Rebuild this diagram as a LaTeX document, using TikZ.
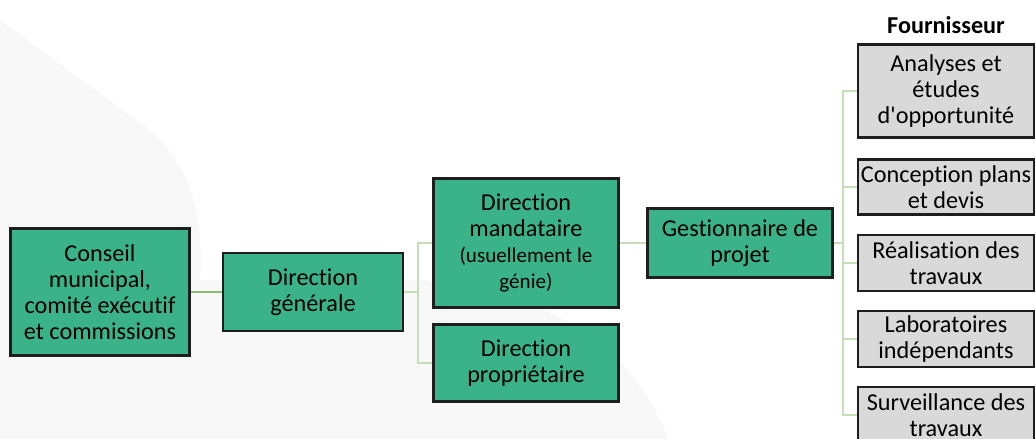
\documentclass[tikz,border=0pt]{standalone}
\usepackage{fontspec}
\setmainfont{Carlito}[Ligatures={TeX,NoCommon}]
\definecolor{boxgreen}{HTML}{3BB38A}
\definecolor{boxgrey}{HTML}{D9D9D9}
\definecolor{boxline}{HTML}{1E1E1E}
\definecolor{linkdark}{HTML}{8DBC6C}
\definecolor{linklight}{HTML}{C6DDB9}
\definecolor{bgshade}{HTML}{F8F8F8}
\tikzset{
  orgbox/.style={draw=boxline,line width=1.6pt,align=center,inner sep=1pt,
    font=\fontsize{13.8}{14.8}\selectfont},
  greenbox/.style={orgbox,fill=boxgreen},
  greybox/.style={orgbox,fill=boxgrey},
  link/.style={draw=linklight,line width=1.6pt},
}
\begin{document}
\begin{tikzpicture}[x=0.02cm,y=-0.02cm]
      \useasboundingbox (0,0) rectangle (1036,439);
      % faint background
      \fill[bgshade] (0,20) -- (140,123) .. controls (185,155) and (205,205) .. (200,280)
        -- (420,280) .. controls (560,290) and (640,360) .. (668,439) -- (0,439) -- cycle;
      \def \Leaders{
        conseil/100/292/3.58/2.54/{Conseil\\municipal,\\comité exécutif\\et commissions},
        dg/313/292/3.6/1.56/{Direction\\générale},
        dm/526/243/3.7/2.58/{Direction\\mandataire\\{\fontsize{12}{13}\selectfont(usuellement le}\\{\fontsize{12}{13}\selectfont génie)}},
        dp/526/363/3.7/1.54/{Direction\\propriétaire},
        gp/740/243/3.7/1.38/{Gestionnaire de\\projet}}
      \def \Suppliers{
        sup1/91/1.86/{Analyses et\\études\\d\textquotesingle opportunité},
        sup2/187/1.1/{Conception plans\\et devis},
        sup3/263/1.12/{Réalisation des\\travaux},
        sup4/339/1.12/{Laboratoires\\indépendants},
        sup5/415/1.12/{Surveillance des\\travaux}}
      \foreach \id / \x / \y / \w / \h / \txt in \Leaders{
        \node[greenbox,minimum width=\w cm,minimum height=\h cm] (\id) at (\x, \y) {\txt};
      }
      \foreach \id / \y / \h / \txt in \Suppliers{
        \node[greybox,minimum width=3.52cm,minimum height=\h cm] (\id) at (946, \y) {\txt};
      }
      \node[font=\bfseries\fontsize{13.8}{14.8}\selectfont] (title) at (946, 25) {Fournisseur};
      \coordinate (split1) at (418, 292);
      \coordinate (split2) at (843, 243);
      \path[draw=linkdark,line width=1.6pt] (conseil) -- (dg);
      \path[link] (dg.east) -- (split1) |- (dm.west);
      \path[link] (split1) |- (dp.west);
      \path[link] (dm.east) -- (gp.west);
      \path[link] (gp.east) -- (split2);
      \foreach \s in {sup1,sup2,sup3,sup4,sup5}{
        \path[link] (split2) |- (\s.west);
      }
    \end{tikzpicture}
\end{document}
